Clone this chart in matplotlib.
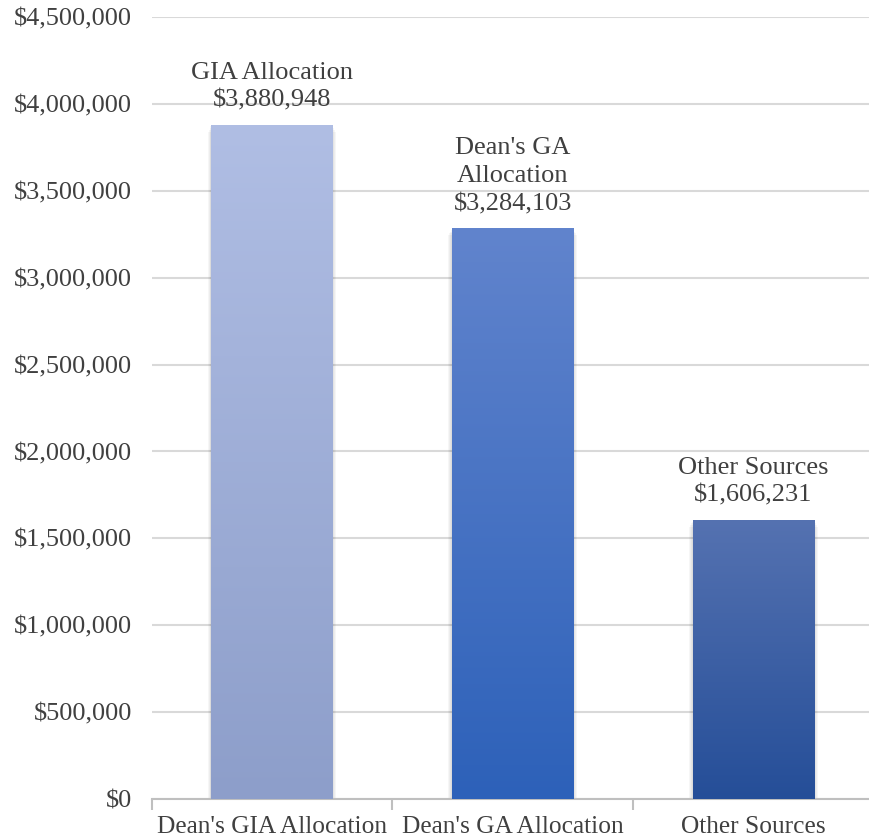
import numpy as np
import matplotlib.pyplot as plt
from matplotlib.colors import LinearSegmentedColormap
from matplotlib.ticker import FuncFormatter, MultipleLocator

categories = ["Dean's GIA Allocation", "Dean's GA Allocation", "Other Sources"]
amounts = [3880948, 3284103, 1606231]
bar_labels = ["GIA Allocation", "Dean's GA\nAllocation", "Other Sources"]
# top/bottom shades of each bar's vertical gradient
shades = [("#B0BEE4", "#8D9ECA"), ("#6184CD", "#2D61B9"), ("#5572B1", "#254E98")]

plt.rcParams['font.family'] = ['Liberation Serif', 'DejaVu Serif']
text_color = '#404040'

fig = plt.figure(figsize=(8.69, 8.4), dpi=100)
ax = fig.add_axes([0.1745, 0.0488, 0.831, 0.931])

x = np.arange(len(categories))
width = 0.503
ax.set_xlim(-0.5, len(categories) - 0.5)
ax.set_ylim(0, 4500000)

for i, (val, (top, bottom)) in enumerate(zip(amounts, shades)):
    # soft drop shadow, built from a few faint widening layers
    for k in range(1, 5):
        ax.bar(x[i], val, width + 0.008 * k, bottom=-10000 * k, color='#000000',
               alpha=0.035, linewidth=0, zorder=2)
    bar = ax.bar(x[i], val, width, color='none', linewidth=0, zorder=3)[0]
    cmap = LinearSegmentedColormap.from_list('g%d' % i, [bottom, top])
    grad = np.linspace(0, 1, 256).reshape(-1, 1)
    img = ax.imshow(grad, cmap=cmap, aspect='auto', origin='lower',
                    extent=[x[i] - width / 2, x[i] + width / 2, 0, val], zorder=3)
    img.set_clip_path(bar)
    ax.text(x[i], val + 75000, bar_labels[i] + "\n${:,}".format(val), ha='center', va='bottom',
            fontsize=19, color=text_color, linespacing=1.35, zorder=4)

ax.set_aspect('auto')
ax.yaxis.set_major_locator(MultipleLocator(500000))
ax.yaxis.set_major_formatter(FuncFormatter(lambda v, p: "${:,.0f}".format(v)))
ax.grid(axis='y', color='#D9D9D9', linewidth=1.5, zorder=0)
ax.set_axisbelow(True)

ax.set_xticks(x)
ax.set_xticklabels(categories)
ax.set_xticks(np.arange(-0.5, len(categories)), minor=True)
ax.tick_params(axis='x', which='major', length=0, pad=12, labelsize=18.3, labelcolor=text_color)
ax.tick_params(axis='x', which='minor', length=8, width=1.5, color='#BFBFBF')
ax.tick_params(axis='y', length=0, pad=14, labelsize=19, labelcolor=text_color)

for side in ['top', 'right', 'left']:
    ax.spines[side].set_visible(False)
ax.spines['bottom'].set_color('#BFBFBF')
ax.spines['bottom'].set_linewidth(1.5)

fig.savefig('out.png', dpi=100)
